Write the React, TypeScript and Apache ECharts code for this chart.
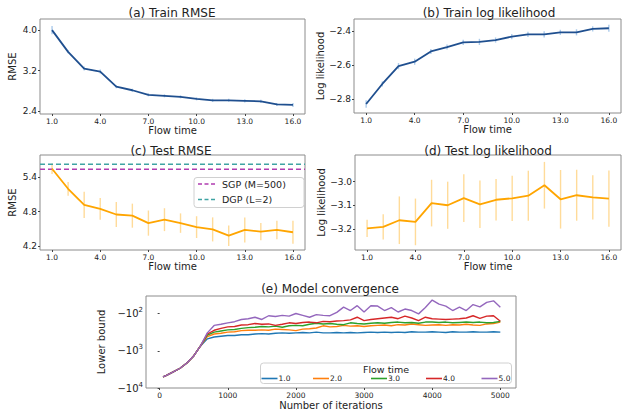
import React, { useEffect, useRef } from 'react';
import * as echarts from 'echarts';

const FONT = 'DejaVu Sans';

// Panels (a)-(d): flow time on x
const flowTime = [1, 2, 3, 4, 5, 6, 7, 8, 9, 10, 11, 12, 13, 14, 15, 16];
const flowTicks = [1, 4, 7, 10, 13, 16];

const trainRmse = [4.0, 3.57, 3.24, 3.18, 2.88, 2.81, 2.72, 2.7, 2.68, 2.64, 2.61, 2.61, 2.6, 2.59, 2.53, 2.52];
const trainRmseErr = [0.08, 0.03, 0.04, 0.04, 0.03, 0.03, 0.03, 0.03, 0.03, 0.03, 0.03, 0.03, 0.03, 0.03, 0.03, 0.04];
const trainLL = [-2.827, -2.71, -2.606, -2.58, -2.52, -2.494, -2.467, -2.464, -2.453, -2.433, -2.42, -2.42, -2.408, -2.408, -2.388, -2.384];
const trainLLErr = [0.022, 0.015, 0.018, 0.018, 0.015, 0.015, 0.015, 0.018, 0.015, 0.015, 0.015, 0.018, 0.015, 0.018, 0.015, 0.02];
const testRmse = [5.55, 5.2, 4.92, 4.85, 4.75, 4.73, 4.6, 4.66, 4.6, 4.53, 4.49, 4.38, 4.48, 4.45, 4.48, 4.44];
const testRmseErr = [0.09, 0.12, 0.23, 0.19, 0.22, 0.21, 0.22, 0.2, 0.17, 0.19, 0.21, 0.18, 0.22, 0.15, 0.16, 0.2];
const testLL = [-3.196, -3.19, -3.162, -3.169, -3.09, -3.099, -3.069, -3.095, -3.076, -3.07, -3.059, -3.015, -3.074, -3.057, -3.066, -3.071];
const testLLErr = [0.036, 0.053, 0.1, 0.098, 0.098, 0.099, 0.1, 0.1, 0.087, 0.095, 0.105, 0.098, 0.123, 0.107, 0.093, 0.118];
const sgpRmse = 5.54;
const dgpRmse = 5.63;
const baselineNames = ['SGP (M=500)', 'DGP (L=2)'];
const baselineColors = ['#b03cb0', '#3fa3a3'];

// Panel (e): log10(-lower bound) per iteration
const iterations = [50, 100, 200, 300, 400, 500, 600, 700, 800, 900, 1000, 1100, 1200, 1300, 1400, 1500, 1600, 1700, 1800, 1900, 2000, 2100, 2200, 2300, 2400, 2500, 2600, 2700, 2800, 2900, 3000, 3100, 3200, 3300, 3400, 3500, 3600, 3700, 3800, 3900, 4000, 4100, 4200, 4300, 4400, 4500, 4600, 4700, 4800, 4900, 5000];
const iterTicks = [0, 1000, 2000, 3000, 4000, 5000];
const flowNames = ['1.0', '2.0', '3.0', '4.0', '5.0'];
const lbLog1 = [3.7, 3.66, 3.57, 3.47, 3.33, 3.14, 2.87, 2.68, 2.63, 2.61, 2.59, 2.59, 2.57, 2.57, 2.55, 2.54, 2.55, 2.53, 2.52, 2.53, 2.52, 2.51, 2.52, 2.5, 2.52, 2.52, 2.51, 2.52, 2.51, 2.52, 2.51, 2.5, 2.51, 2.5, 2.51, 2.5, 2.51, 2.49, 2.5, 2.5, 2.49, 2.5, 2.51, 2.49, 2.5, 2.5, 2.49, 2.5, 2.5, 2.49, 2.5];
const lbLog2 = [3.7, 3.66, 3.57, 3.47, 3.33, 3.14, 2.87, 2.62, 2.55, 2.53, 2.5, 2.49, 2.46, 2.45, 2.45, 2.44, 2.45, 2.42, 2.43, 2.44, 2.46, 2.42, 2.41, 2.39, 2.33, 2.36, 2.35, 2.32, 2.34, 2.33, 2.35, 2.33, 2.32, 2.31, 2.33, 2.3, 2.31, 2.28, 2.3, 2.32, 2.31, 2.3, 2.32, 2.3, 2.31, 2.29, 2.31, 2.32, 2.28, 2.27, 2.23];
const lbLog3 = [3.7, 3.66, 3.57, 3.47, 3.33, 3.14, 2.87, 2.58, 2.5, 2.47, 2.44, 2.43, 2.4, 2.38, 2.37, 2.35, 2.36, 2.34, 2.37, 2.33, 2.32, 2.33, 2.29, 2.26, 2.28, 2.27, 2.29, 2.3, 2.25, 2.27, 2.28, 2.26, 2.25, 2.26, 2.24, 2.23, 2.25, 2.24, 2.26, 2.23, 2.23, 2.24, 2.23, 2.25, 2.24, 2.23, 2.24, 2.23, 2.25, 2.24, 2.21];
const lbLog4 = [3.7, 3.66, 3.57, 3.47, 3.33, 3.14, 2.87, 2.55, 2.45, 2.4, 2.36, 2.35, 2.31, 2.3, 2.27, 2.29, 2.28, 2.32, 2.29, 2.25, 2.27, 2.24, 2.23, 2.25, 2.21, 2.22, 2.2, 2.19, 2.17, 2.1, 2.19, 2.16, 2.14, 2.12, 2.1, 2.14, 2.07, 2.12, 2.19, 2.1, 2.14, 2.15, 2.16, 2.15, 2.14, 2.12, 2.06, 2.13, 2.07, 2.06, 2.21];
const lbLog5 = [3.7, 3.66, 3.57, 3.47, 3.33, 3.14, 2.87, 2.52, 2.32, 2.29, 2.25, 2.22, 2.16, 2.14, 2.1, 2.16, 2.06, 2.08, 2.05, 2.07, 2.0, 2.05, 2.1, 2.03, 2.05, 2.06, 1.97, 1.83, 1.92, 1.79, 1.96, 1.79, 1.8, 1.92, 1.84, 1.96, 1.88, 1.92, 2.01, 1.84, 1.64, 1.75, 1.8, 1.92, 1.83, 1.92, 1.76, 1.82, 1.7, 1.66, 1.83];
const lbLogs = [lbLog1, lbLog2, lbLog3, lbLog4, lbLog5];
const convColors = ['#1f77b4', '#ff7f0e', '#2ca02c', '#d62728', '#9467bd'];

const BLUE = '#1f4f8f';
const BLUE_ERR = 'rgba(70,140,210,0.45)';
const ORANGE = '#ffa500';
const ORANGE_ERR = 'rgba(255,165,0,0.4)';
const FRAME = '#8c8c8c';
const TXT = '#222';

const MINUS = '\u2212';
const fmtNum = (v: number, d: number) => (v < 0 ? MINUS : '') + Math.abs(v).toFixed(d);

function errSeries(idx: number, xs: number[], ys: number[], errs: number[], color: string) {
  return {
    type: 'custom',
    xAxisIndex: idx,
    yAxisIndex: idx,
    silent: true,
    z: 1,
    data: xs.map((x, i) => [x, ys[i] - errs[i], ys[i] + errs[i]]),
    encode: { x: 0, y: [1, 2] },
    renderItem: (_p: any, api: any) => {
      const a = api.coord([api.value(0), api.value(1)]);
      const b = api.coord([api.value(0), api.value(2)]);
      return {
        type: 'line',
        shape: { x1: a[0], y1: a[1], x2: b[0], y2: b[1] },
        style: { stroke: color, lineWidth: 1.4 },
      };
    },
  };
}

function flowXAxis(idx: number, nameGap: number) {
  return {
    gridIndex: idx,
    type: 'value',
    min: 0.25,
    max: 16.75,
    axisLine: { show: false },
    splitLine: { show: false },
    axisTick: { show: true, length: 2, customValues: flowTicks, lineStyle: { color: '#444' } },
    axisLabel: {
      customValues: flowTicks,
      formatter: (v: number) => v.toFixed(1),
      fontSize: 7.5,
      fontFamily: FONT,
      color: TXT,
      margin: 3,
    },
    name: 'Flow time',
    nameLocation: 'middle',
    nameGap,
    nameTextStyle: { fontSize: 10, fontFamily: FONT, color: TXT },
  };
}

function valYAxis(idx: number, min: number, max: number, ticks: number[], name: string, nameGap: number) {
  return {
    gridIndex: idx,
    type: 'value',
    min,
    max,
    axisLine: { show: false },
    splitLine: { show: false },
    axisTick: { show: true, length: 2, customValues: ticks, lineStyle: { color: '#444' } },
    axisLabel: {
      customValues: ticks,
      formatter: (v: number) => fmtNum(v, 1),
      fontSize: 9,
      fontFamily: FONT,
      color: TXT,
      margin: 3,
    },
    name,
    nameLocation: 'middle',
    nameGap,
    nameTextStyle: { fontSize: 10, fontFamily: FONT, color: TXT },
  };
}

function lineSeries(idx: number, xs: number[], ys: number[], color: string, name?: string) {
  return {
    type: 'line',
    name,
    xAxisIndex: idx,
    yAxisIndex: idx,
    data: xs.map((x, i) => [x, ys[i]]),
    symbol: 'none',
    lineStyle: { color, width: 1.8 },
    itemStyle: { color },
    z: 3,
  };
}

function titleText(text: string, x: number, y: number) {
  return {
    type: 'text',
    x,
    y,
    style: {
      text,
      fontSize: 12,
      fontFamily: FONT,
      fill: TXT,
      textAlign: 'center',
      textVerticalAlign: 'middle',
    },
  };
}

function legendEntry(x: number, y: number, len: number, color: string, label: string, dash: number[] | null, fontSize: number, gap: number) {
  return [
    {
      type: 'line',
      z: 101,
      shape: { x1: x, y1: y, x2: x + len, y2: y },
      style: { stroke: color, lineWidth: 1.6, lineDash: dash || undefined },
    },
    {
      type: 'text',
      z: 101,
      x: x + len + gap,
      y,
      style: { text: label, fontSize, fontFamily: FONT, fill: TXT, textAlign: 'left', textVerticalAlign: 'middle' },
    },
  ];
}

export default function App() {
  const ref = useRef<HTMLDivElement>(null);

  useEffect(() => {
    if (!ref.current) return;
    const chart = echarts.init(ref.current, undefined, { renderer: 'svg' });

    const gridBase = { show: true, borderColor: FRAME, borderWidth: 1, backgroundColor: 'transparent', containLabel: false };
    const grids = [
      { ...gridBase, left: 40, top: 19, width: 265, height: 95 },
      { ...gridBase, left: 354, top: 19, width: 267, height: 94 },
      { ...gridBase, left: 40, top: 155, width: 265, height: 95 },
      { ...gridBase, left: 355, top: 155, width: 266, height: 95 },
      { ...gridBase, left: 146, top: 296, width: 370, height: 92 },
    ];

    const eXAxis = {
      gridIndex: 4,
      type: 'value',
      min: -200,
      max: 5230,
      axisLine: { show: false },
      splitLine: { show: false },
      axisTick: { show: true, length: 2, customValues: iterTicks, lineStyle: { color: '#444' } },
      axisLabel: {
        customValues: iterTicks,
        formatter: (v: number) => String(v),
        fontSize: 7.5,
        fontFamily: FONT,
        color: TXT,
        margin: 3,
      },
      name: 'Number of iterations',
      nameLocation: 'middle',
      nameGap: 12,
      nameTextStyle: { fontSize: 10, fontFamily: FONT, color: TXT },
    };
    const eYAxis = {
      gridIndex: 4,
      type: 'value',
      min: -4,
      max: -1.53,
      axisLine: { show: false },
      splitLine: { show: false },
      axisTick: { show: true, length: 2, customValues: [-4, -3, -2], lineStyle: { color: '#444' } },
      axisLabel: {
        customValues: [-4, -3, -2],
        formatter: (v: number) => `{a|${MINUS}10}{b|${Math.round(-v)}}`,
        fontFamily: FONT,
        color: TXT,
        margin: 3,
        rich: {
          a: { fontSize: 10, fontFamily: FONT, color: TXT, lineHeight: 14 },
          b: { fontSize: 7, fontFamily: FONT, color: TXT, lineHeight: 7, verticalAlign: 'top' },
        },
      },
      name: 'Lower bound',
      nameLocation: 'middle',
      nameGap: 31,
      nameTextStyle: { fontSize: 10, fontFamily: FONT, color: TXT },
    };

    const convSeries = lbLogs.map((arr, k) => ({
      type: 'line',
      name: flowNames[k],
      xAxisIndex: 4,
      yAxisIndex: 4,
      data: iterations.map((it, i) => [it, -arr[i]]),
      symbol: 'none',
      lineStyle: { color: convColors[k], width: 1.4 },
      itemStyle: { color: convColors[k] },
      z: 3 + k,
    }));

    const hline = (y: number, color: string, name: string) => ({
      type: 'line',
      name,
      xAxisIndex: 2,
      yAxisIndex: 2,
      data: [[0.25, y], [16.75, y]],
      symbol: 'none',
      lineStyle: { color, width: 1.5, type: [5, 3] },
      itemStyle: { color },
      z: 2,
    });

    // legend boxes drawn as graphics
    const legendC: any[] = [
      {
        type: 'rect',
        z: 100,
        shape: { x: 194, y: 177.5, width: 110, height: 30, r: 3 },
        style: { fill: 'rgba(255,255,255,0.9)', stroke: '#d0d0d0', lineWidth: 1 },
      },
      ...legendEntry(198, 184, 18, baselineColors[0], baselineNames[0], [4, 2.5], 9.5, 6),
      ...legendEntry(198, 199.5, 18, baselineColors[1], baselineNames[1], [4, 2.5], 9.5, 6),
    ];
    const legendStarts = [261.5, 313, 371, 426, 481.5];
    const legendE: any[] = [
      {
        type: 'rect',
        z: 100,
        shape: { x: 260.5, y: 363, width: 251, height: 20.5, r: 3 },
        style: { fill: 'rgba(255,255,255,0.85)', stroke: '#d0d0d0', lineWidth: 1 },
      },
      {
        type: 'text',
        x: 386,
        y: 369,
        z: 101,
        style: {
          text: 'Flow time',
          fontSize: 9.5,
          fontFamily: FONT,
          fill: TXT,
          textAlign: 'center',
          textVerticalAlign: 'middle',
        },
      },
    ];
    flowNames.forEach((n, i) => {
      legendE.push(...legendEntry(legendStarts[i], 378.5, 16, convColors[i], n, null, 7.5, 1));
    });

    const option: any = {
      animation: false,
      backgroundColor: '#fff',
      textStyle: { fontFamily: FONT },
      grid: grids,
      xAxis: [flowXAxis(0, 10), flowXAxis(1, 10), flowXAxis(2, 10), flowXAxis(3, 10), eXAxis],
      yAxis: [
        valYAxis(0, 2.34, 4.22, [2.4, 3.2, 4.0], 'RMSE', 23),
        valYAxis(1, -2.88, -2.33, [-2.8, -2.6, -2.4], 'Log likelihood', 27),
        valYAxis(2, 4.13, 5.79, [4.2, 4.8, 5.4], 'RMSE', 23),
        valYAxis(3, -3.287, -2.888, [-3.2, -3.1, -3.0], 'Log likelihood', 27),
        eYAxis,
      ],
      graphic: [
        titleText('(a) Train RMSE', 172, 13),
        titleText('(b) Train log likelihood', 489, 13),
        titleText('(c) Test RMSE', 171, 151),
        titleText('(d) Test log likelihood', 488, 151),
        titleText('(e) Model convergence', 330, 289),
        ...legendC,
        ...legendE,
      ],
      series: [
        errSeries(0, flowTime, trainRmse, trainRmseErr, BLUE_ERR),
        lineSeries(0, flowTime, trainRmse, BLUE),
        errSeries(1, flowTime, trainLL, trainLLErr, BLUE_ERR),
        lineSeries(1, flowTime, trainLL, BLUE),
        hline(sgpRmse, baselineColors[0], baselineNames[0]),
        hline(dgpRmse, baselineColors[1], baselineNames[1]),
        errSeries(2, flowTime, testRmse, testRmseErr, ORANGE_ERR),
        lineSeries(2, flowTime, testRmse, ORANGE),
        errSeries(3, flowTime, testLL, testLLErr, ORANGE_ERR),
        lineSeries(3, flowTime, testLL, ORANGE),
        ...convSeries,
      ],
    };

    chart.setOption(option);
    return () => chart.dispose();
  }, []);

  return (
    <div
      ref={ref}
      style={{ position: 'fixed', left: 0, top: 0, width: 622, height: 411, background: '#fff' }}
    />
  );
}
